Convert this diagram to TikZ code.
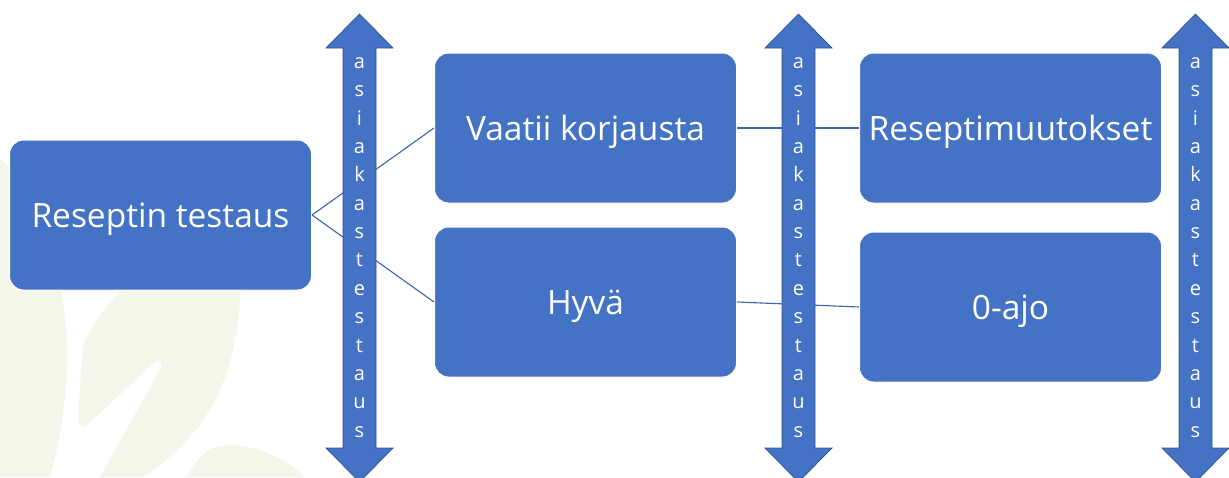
\documentclass[tikz,border=0pt]{standalone}
\usepackage{fontspec}
\setmainfont{Open Sans}
\definecolor{boxblue}{HTML}{4472C4}
\definecolor{edgeblue}{HTML}{2F528F}
\definecolor{linkblue}{HTML}{3C64AE}
\definecolor{leafgreen}{HTML}{F3F7E9}
\begin{document}
\begin{tikzpicture}[x=1pt,y=-1pt,
  box/.style={draw=white, line width=1pt, fill=boxblue, rounded corners=14pt,
    minimum width=302pt, minimum height=150pt, inner sep=0pt, text=white,
    font=\fontsize{33.5}{40}\selectfont, text height=24pt, text depth=0pt},
  link/.style={draw=linkblue, line width=1.1pt},
  dblarrow/.style={fill=boxblue, draw=edgeblue, line width=0.7pt, line join=miter},
  letter/.style={text=white, font=\fontsize{20}{20}\selectfont, inner sep=0pt, anchor=base},
  leaf/.style={fill=leafgreen, draw=none}]
\useasboundingbox (0,0) rectangle (1229,477);
\clip (0,0) rectangle (1229,477);
\fill[white] (0,0) rectangle (1229,477);

% pale leaf motif in the lower left corner
\fill[leaf] (0,158) .. controls (30,190) and (60,250) .. (66,330)
  .. controls (70,390) and (60,440) .. (50,477) -- (0,477) -- cycle;
\fill[leaf] (83,347) .. controls (95,315) and (115,295) .. (140,275) -- (240,275)
  .. controls (242,340) and (225,400) .. (187,440)
  .. controls (170,458) and (155,470) .. (143,477) -- (100,477)
  -- (161,368) .. controls (164,362) and (158,359) .. (155,362)
  -- (87,425) .. controls (81,430) and (77,423) .. (78,416) -- cycle;
\fill[leaf] (187,477) .. controls (195,462) and (205,450) .. (215,447)
  .. controls (250,440) and (285,458) .. (305,477) -- cycle;

% process boxes
\node[box] (b1) at (160.5,215) {Reseptin testaus};
\node[box] (b2) at (585.5,128) {Vaatii korjausta};
\node[box] (b3) at (585.5,302) {Hyvä};
\node[box] (b4) at (1010.5,128) {Reseptimuutokset};
\node[box] (b5) at (1010.5,307) {0-ajo};

% connectors
\draw[link] (b1.east) -- (b2.west);
\draw[link] (b1.east) -- (b3.west);
\draw[link] (b2.east) -- (b4.west);
\draw[link] (b3.east) -- (b5.west);

% vertical double arrows with stacked text
\foreach \cx/\nm in {359.5/ta, 798.5/tb, 1195.5/tc} {
  \draw[dblarrow] (\cx,14) -- (\cx+33.5,48) -- (\cx+16.5,48) -- (\cx+16.5,448)
    -- (\cx+33.5,448) -- (\cx,482) -- (\cx-33.5,448) -- (\cx-16.5,448)
    -- (\cx-16.5,48) -- (\cx-33.5,48) -- cycle;
  \foreach \ch [count=\i from 0] in {a,s,i,a,k,a,s,t,e,s,t,a,u,s}
    \node[letter] (\nm-\i) at (\cx,68.5+28.35*\i) {\ch};
}
\end{tikzpicture}
\end{document}
